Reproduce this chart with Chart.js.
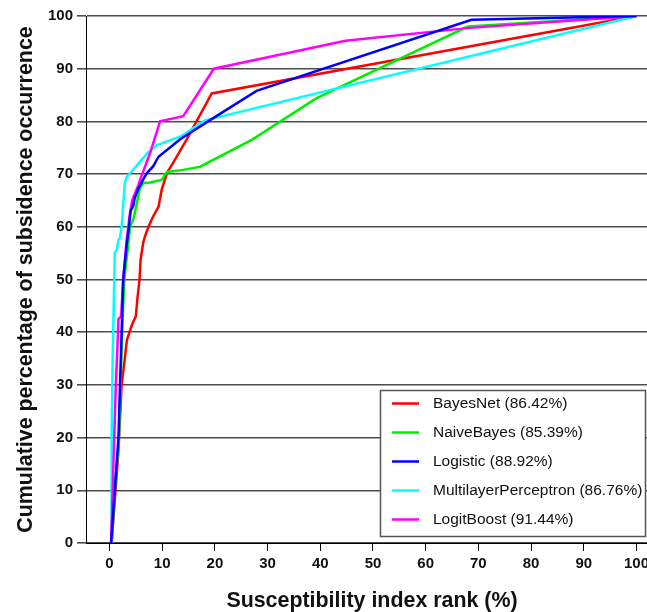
<!DOCTYPE html>
<html>
<head>
<meta charset="utf-8">
<script src="https://cdn.jsdelivr.net/npm/chart.js@4.4.1/dist/chart.umd.min.js"></script>
<style>
html,body{margin:0;padding:0;background:#fff;}
#wrap{position:relative;width:647px;height:612px;}
</style>
</head>
<body>
<div id="wrap"><canvas id="c" width="647" height="612"></canvas></div>
<script>
// ---- data ----
const seriesNames = ["BayesNet (86.42%)", "NaiveBayes (85.39%)", "Logistic (88.92%)", "MultilayerPerceptron (86.76%)", "LogitBoost (91.44%)"];
const seriesColors = ["#ff0000", "#00ee00", "#0000ff", "#00ffff", "#ff00ff"];
const seriesDrawOrder = [4, 3, 0, 2, 1];

const bayesNetX = [0.4, 1.0, 1.7, 2.3, 2.9, 3.3, 3.8, 4.3, 5.0, 5.3, 5.7, 5.9, 6.4, 6.7, 7.4, 8.3, 9.3, 9.9, 10.9, 12.4, 14.6, 19.4, 100];
const bayesNetY = [0, 8, 17.6, 30, 35, 38.5, 40, 41.5, 43, 46.4, 50, 53.7, 57, 58.1, 60, 62, 63.8, 67, 70.2, 72.7, 76.5, 85.3, 100];

const naiveBayesX = [0.4, 1.0, 1.8, 2.1, 2.4, 2.8, 3.6, 3.9, 4.5, 4.8, 5.2, 5.5, 5.8, 6.4, 7.7, 9.9, 10.9, 14.0, 17.2, 27.0, 39.3, 68.0, 100];
const naiveBayesY = [0, 10, 20, 30, 40, 50, 57, 60, 61.3, 62.6, 64.5, 66, 67.3, 68.3, 68.4, 68.9, 70.4, 70.8, 71.4, 76.5, 84.4, 98, 100];

const logisticX = [0.3, 1.0, 1.7, 2.0, 2.3, 2.6, 2.9, 3.3, 3.7, 4.0, 4.5, 4.8, 5.5, 6.4, 7.1, 8.3, 9.3, 13.4, 19.0, 27.9, 68.7, 100];
const logisticY = [0, 10, 20, 30, 40, 50, 53, 57, 60, 63, 64, 65.5, 67.3, 69, 70.2, 71.5, 73.3, 76.6, 80.2, 85.8, 99.3, 100];

const mlpX = [0.3, 0.4, 0.6, 0.8, 1.0, 1.4, 1.7, 2.0, 2.3, 2.6, 2.9, 3.3, 4.2, 5.5, 7.1, 9.0, 13.4, 18.1, 100];
const mlpY = [0, 20, 35, 45, 55, 55.8, 57.5, 58, 60, 64, 68.3, 69.5, 70.5, 72, 73.9, 75.5, 77.1, 80.2, 100];

const logitBoostX = [0.3, 0.6, 0.9, 1.2, 1.5, 1.7, 2.2, 2.6, 3.2, 3.8, 4.3, 5.5, 5.8, 7.7, 9.6, 14.0, 19.8, 44.8, 67.8, 100];
const logitBoostY = [0, 10, 20, 30, 37, 42.5, 43, 50, 57, 62, 65, 68, 68.9, 74, 80, 81, 90, 95.3, 97.7, 100];

const xTickValues = [0, 10, 20, 30, 40, 50, 60, 70, 80, 90, 100];
const yTickValues = [0, 10, 20, 30, 40, 50, 60, 70, 80, 90, 100];

const xTitle = "Susceptibility index rank (%)";
const yTitle = "Cumulative percentage of subsidence occurrence";

// ---- build chart ----
const seriesX = [bayesNetX, naiveBayesX, logisticX, mlpX, logitBoostX];
const seriesY = [bayesNetY, naiveBayesY, logisticY, mlpY, logitBoostY];

function toPoints(xs, ys) { return xs.map((x, i) => ({x: x, y: ys[i]})); }

const datasets = seriesNames.map((name, i) => ({
  label: name,
  data: toPoints(seriesX[i], seriesY[i]),
  borderColor: seriesColors[i],
  backgroundColor: seriesColors[i],
  borderWidth: 2.5,
  pointRadius: 0,
  tension: 0,
  fill: false,
  order: seriesDrawOrder[i]
}));

const legendBox = {
  id: 'legendBox',
  afterDatasetsDraw(chart) {
    const ctx = chart.ctx;
    const x0 = 380.5, y0 = 390.5, x1 = 645.5, y1 = 536.5;
    ctx.save();
    ctx.fillStyle = '#ffffff';
    ctx.fillRect(x0, y0, x1 - x0, y1 - y0);
    ctx.strokeStyle = '#555555';
    ctx.lineWidth = 1.5;
    ctx.strokeRect(x0, y0, x1 - x0, y1 - y0);
    ctx.font = '15.5px "Liberation Sans", Arial, sans-serif';
    ctx.textBaseline = 'middle';
    ctx.fillStyle = '#111111';
    chart.data.datasets.forEach((ds, i) => {
      const cy = 403.5 + i * 29;
      ctx.strokeStyle = ds.borderColor;
      ctx.lineWidth = 2.5;
      ctx.beginPath();
      ctx.moveTo(392, cy);
      ctx.lineTo(419, cy);
      ctx.stroke();
      ctx.fillText(ds.label, 433, cy);
    });
    ctx.restore();
  },
  afterDraw(chart) {
    const ctx = chart.ctx;
    ctx.save();
    ctx.font = 'bold 21.4px "Liberation Sans", Arial, sans-serif';
    ctx.fillStyle = '#111111';
    ctx.textAlign = 'center';
    ctx.textBaseline = 'middle';
    ctx.fillText(xTitle, 372, 601);
    ctx.restore();
  }
};

new Chart(document.getElementById('c'), {
  type: 'line',
  data: { datasets: datasets },
  options: {
    responsive: false,
    animation: false,
    events: [],
    layout: { padding: { top: 16, right: 0, bottom: 0, left: 0 } },
    plugins: { legend: { display: false }, tooltip: { enabled: false } },
    scales: {
      x: {
        type: 'linear',
        min: -4.46,
        max: 102.0,
        afterBuildTicks(scale) { scale.ticks = xTickValues.map(v => ({value: v})); },
        afterFit(scale) { scale.height = 69; scale.paddingLeft = 0; scale.paddingRight = 0; },
        grid: { drawOnChartArea: false, drawTicks: true, tickLength: 8, color: '#000', lineWidth: 1 },
        border: { display: true, color: '#000', width: 1 },
        ticks: {
          padding: 4,
          color: '#111',
          font: { family: '"Liberation Sans", Arial, sans-serif', size: 15, weight: 'bold' },
          maxRotation: 0,
          autoSkip: false
        },
        title: { display: false }
      },
      y: {
        type: 'linear',
        min: 0,
        max: 100,
        afterBuildTicks(scale) { scale.ticks = yTickValues.map(v => ({value: v})); },
        afterFit(scale) { scale.width = 86; scale.paddingTop = 0; scale.paddingBottom = 0; },
        grid: { drawOnChartArea: true, drawTicks: true, tickLength: 9, color: '#4d4d4d', lineWidth: 1.6 },
        border: { display: true, color: '#000', width: 1 },
        ticks: {
          padding: 4,
          color: '#111',
          font: { family: '"Liberation Sans", Arial, sans-serif', size: 15, weight: 'bold' },
          autoSkip: false
        },
        title: {
          display: true,
          text: yTitle,
          color: '#111',
          font: { family: '"Liberation Sans", Arial, sans-serif', size: 21.4, weight: 'bold', lineHeight: 1 },
          padding: { top: 15, bottom: 0 }
        }
      }
    }
  },
  plugins: [legendBox]
});
</script>
</body>
</html>
